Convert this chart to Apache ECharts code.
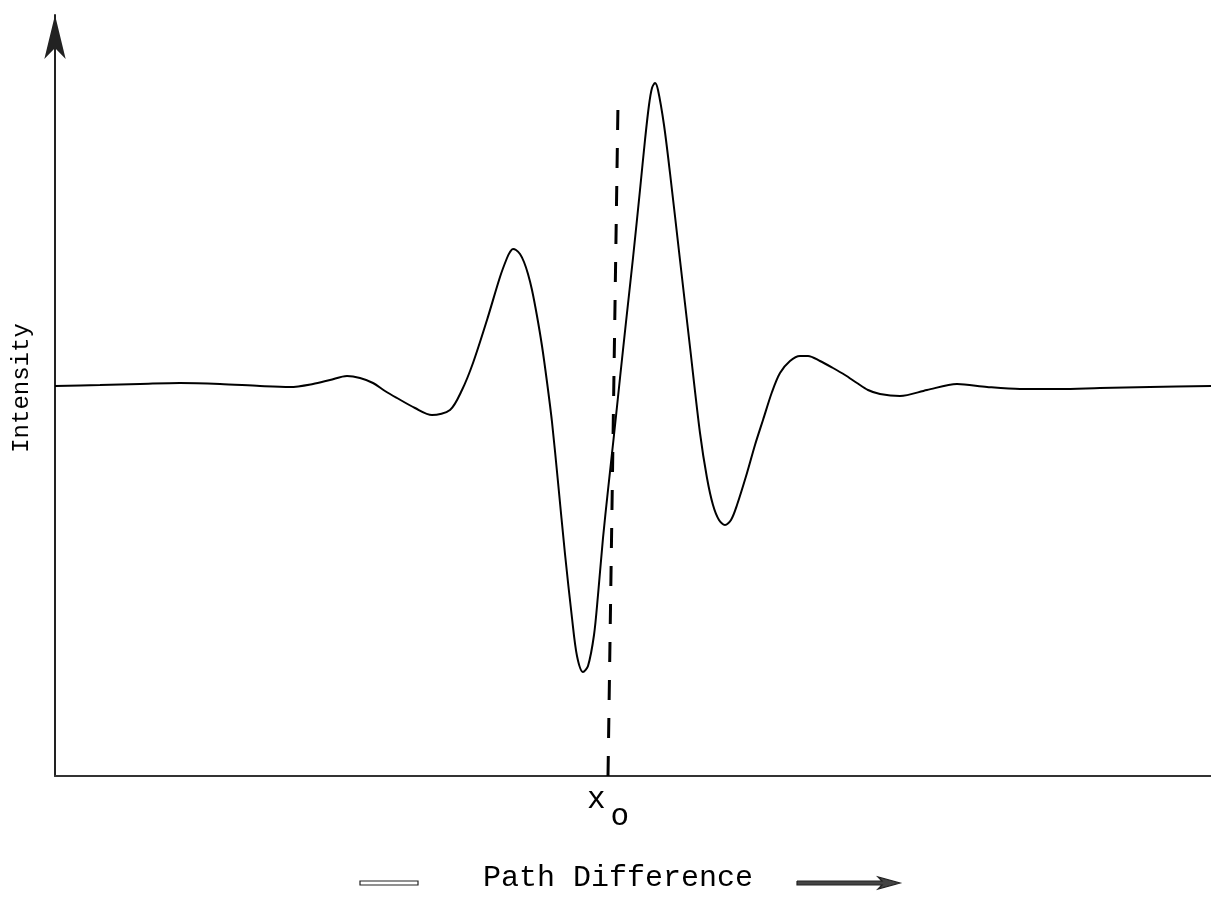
<!DOCTYPE html>
<html>
<head>
<meta charset="utf-8">
<script src="https://cdn.jsdelivr.net/npm/echarts@6/dist/echarts.min.js"></script>
<style>html,body{margin:0;padding:0;background:#fff;}#c{width:1211px;height:913px;}</style>
</head>
<body>
<div id="c"></div>
<script>
// Path difference (arbitrary units) and intensity (arbitrary units, baseline = 0)
const pathDiff = [0,45,85,125,165,205,235,258,275,292,305,318,330,342,360,377,395,407,418,432,445,452,455,458,461,465,469,473,477,482,487,492,497,503,510,517,522,528,533,539,543,548,553,559,565,571,578,585,590,594,597,600,603,609,615,625,635,645,652,658,664,670,676,682,692,700,708,717,725,735,745,753,765,778,790,802,813,825,845,872,902,932,965,1005,1045,1095,1156];
const intensity = [0,1,2,3,2,0,-1,2,6,10,8,3,-5,-12,-22,-29,-24,-4,23,66,109,128,134,137,136,132,124,112,96,70,40,4,-36,-96,-168,-232,-270,-286,-280,-249,-209,-152,-104,-49,8,64,128,196,246,281,298,303,296,261,213,126,39,-47,-92,-119,-134,-139,-134,-119,-87,-59,-34,-6,13,25,30,30,25,18,11,3,-4,-8,-10,-4,2,-1,-3,-3,-2,-1,0];
// zero path difference marker x0 (dashed line, slightly tilted as drawn)
const markerX = [553, 563];
const markerY = [-390, 283];
const x0 = 553;

const curve = pathDiff.map((x, i) => [x, intensity[i]]);
const marker = markerX.map((x, i) => [x, markerY[i]]);

const chart = echarts.init(document.getElementById('c'), null, {renderer: 'canvas'});
const font = '"Liberation Mono", "DejaVu Sans Mono", monospace';
chart.setOption({
  animation: false,
  backgroundColor: '#fff',
  grid: {left: 55, right: 0, top: 15, bottom: 137, containLabel: false, outerBoundsMode: 'none'},
  xAxis: {
    type: 'value', min: 0, max: 1156,
    splitLine: {show: false},
    axisTick: {show: false},
    axisLine: {show: true, onZero: false, lineStyle: {color: '#333', width: 2}},
    axisLabel: {
      show: true,
      customValues: [x0],
      margin: 8,
      formatter: () => '{x|x}{o|o}',
      rich: {
        x: {fontFamily: font, fontSize: 31, color: '#000', verticalAlign: 'top', lineHeight: 48},
        o: {fontFamily: font, fontSize: 31, color: '#000', verticalAlign: 'bottom', lineHeight: 48, padding: [24, 0, 0, 5]}
      }
    }
  },
  yAxis: {
    type: 'value', min: -390, max: 371,
    splitLine: {show: false},
    axisTick: {show: false},
    axisLabel: {show: false},
    axisLine: {show: true, onZero: false, lineStyle: {color: '#222', width: 2},
      symbol: ['none', 'arrow'], symbolSize: [16, 44]}
  },
  series: [
    {
      type: 'line', data: curve, smooth: 0.3, showSymbol: false,
      lineStyle: {color: '#000', width: 2}
    },
    {
      type: 'line', data: marker, showSymbol: false,
      lineStyle: {color: '#000', width: 3, type: [20, 18]}
    }
  ],
  graphic: [
    {type: 'text', x: 22, y: 388, rotation: Math.PI / 2,
      style: {text: 'Intensity', fontFamily: font, fontSize: 24, fill: '#000', align: 'center', verticalAlign: 'middle'}},
    {type: 'text', x: 618, y: 878,
      style: {text: 'Path Difference', fontFamily: font, fontSize: 30, fill: '#000', align: 'center', verticalAlign: 'middle'}},
    {type: 'rect', shape: {x: 360, y: 881, width: 58, height: 4}, style: {fill: '#fff', stroke: '#222', lineWidth: 1.2}},
    {type: 'polyline', shape: {points: [[797, 881], [882, 881], [878, 877], [900, 883], [878, 889], [882, 885], [797, 885], [797, 881]]}, style: {fill: '#444', stroke: '#222', lineWidth: 1.2}}
  ]
});
</script>
</body>
</html>
